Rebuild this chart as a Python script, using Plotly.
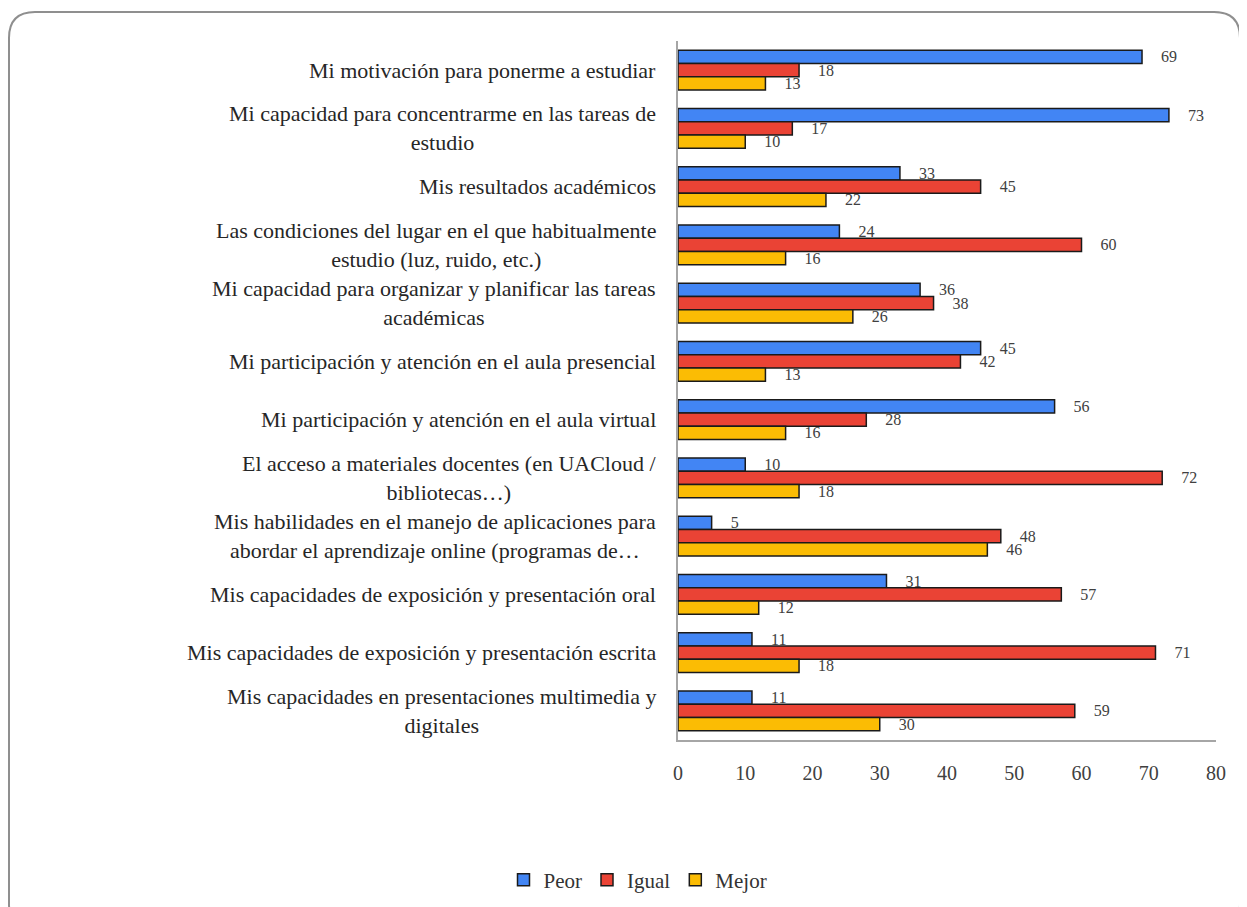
import plotly.graph_objects as go

categories = [
    "Mi motivación para ponerme a estudiar",
    "Mi capacidad para concentrarme en las tareas de<br>estudio",
    "Mis resultados académicos",
    "Las condiciones del lugar en el que habitualmente<br>estudio (luz, ruido, etc.)",
    "Mi capacidad para organizar y planificar las tareas<br>académicas",
    "Mi participación y atención en el aula presencial",
    "Mi participación y atención en el aula virtual",
    "El acceso a materiales docentes (en UACloud /<br>bibliotecas…)",
    "Mis habilidades en el manejo de aplicaciones para<br>abordar el aprendizaje online (programas de…",
    "Mis capacidades de exposición y presentación oral",
    "Mis capacidades de exposición y presentación escrita",
    "Mis capacidades en presentaciones multimedia y<br>digitales",
]
peor = [69, 73, 33, 24, 36, 45, 56, 10, 5, 31, 11, 11]
igual = [18, 17, 45, 60, 38, 42, 28, 72, 48, 57, 71, 59]
mejor = [13, 10, 22, 16, 26, 13, 16, 18, 46, 12, 18, 30]
x_ticks = [0, 10, 20, 30, 40, 50, 60, 70, 80]

OFF = 8  # page body margin
W, H = 1247 - OFF, 907 - OFF
ML, MR, MT, MB = 678 - OFF, 31, 41 - OFF, 167
SERIF = "Liberation Serif, Times New Roman, serif"

ids = list(range(len(categories)))

fig = go.Figure()
for name, vals, color in [("Peor", peor, "#4285F4"), ("Igual", igual, "#EA4335"), ("Mejor", mejor, "#FBBC04")]:
    fig.add_trace(go.Bar(
        y=ids, x=vals, name=name, orientation="h",
        marker=dict(color=color, line=dict(color="#1a1a1a", width=1.5)),
        text=[f"    {v}" for v in vals], textposition="outside",
        constraintext="none",
        outsidetextfont=dict(family=SERIF, size=16, color="#404040"),
        cliponaxis=False,
    ))

for i, c in enumerate(categories):
    fig.add_annotation(
        x=0, xref="paper", y=i, yref="y", text=c, showarrow=False,
        xanchor="right", yanchor="middle", align="center", xshift=-20,
        font=dict(family=SERIF, size=22, color="#262626"),
    )

# rounded outer border (pixel -> paper)
pw, ph = W - ML - MR, H - MT - MB
def px(x):
    return (x - OFF - ML) / pw
def py(y):
    return 1 - (y - OFF - MT) / ph
x0, x1, y0, y1, r = 9, 1240, 12, 930, 26
path = (f"M {px(x0)},{py(y0 + r)} Q {px(x0)},{py(y0)} {px(x0 + r)},{py(y0)} "
        f"L {px(x1 - r)},{py(y0)} Q {px(x1)},{py(y0)} {px(x1)},{py(y0 + r)} "
        f"L {px(x1)},{py(y1 - r)} Q {px(x1)},{py(y1)} {px(x1 - r)},{py(y1)} "
        f"L {px(x0 + r)},{py(y1)} Q {px(x0)},{py(y1)} {px(x0)},{py(y1 - r)} Z")
fig.add_shape(type="path", path=path, xref="paper", yref="paper",
              line=dict(color="#8f8f8f", width=2), layer="below")

fig.update_layout(
    width=W, height=H,
    margin=dict(l=ML, r=MR, t=MT, b=MB, autoexpand=False),
    paper_bgcolor="white", plot_bgcolor="white",
    barmode="group", bargap=0.32, bargroupgap=0,
    showlegend=True,
    legend=dict(orientation="h", x=(638 - OFF) / W, xref="container",
                xanchor="center", y=1 - (880 - OFF) / H, yref="container", yanchor="middle",
                font=dict(family=SERIF, size=21, color="#333333"),
                itemwidth=30, traceorder="normal"),
    xaxis=dict(range=[0, 80], tickvals=x_ticks, showgrid=False, zeroline=False,
               showline=True, linecolor="#a6a6a6", linewidth=1.5,
               ticks="", tickfont=dict(family=SERIF, size=20, color="#404040"),
               ticklabelstandoff=14),
    yaxis=dict(tickvals=ids, showticklabels=False, autorange="reversed",
               showgrid=False, zeroline=False,
               showline=True, linecolor="#a6a6a6", linewidth=1.5, ticks=""),
    font=dict(family=SERIF),
)

fig.write_html("out.html")
